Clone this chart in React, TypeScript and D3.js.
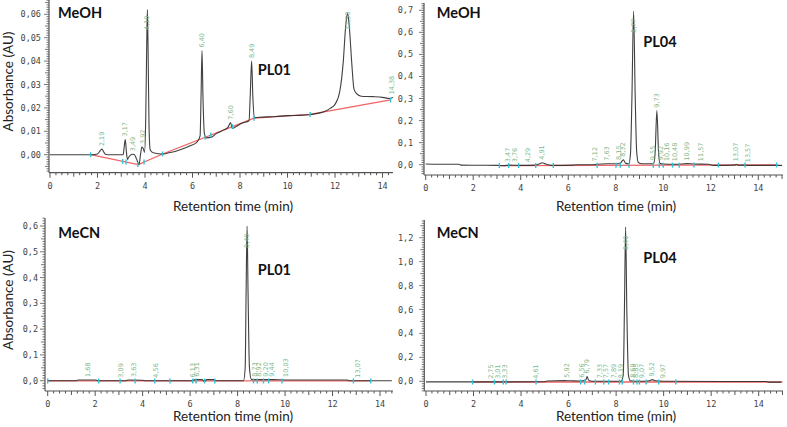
import React from "react";
import * as d3 from "d3";

type Pt = [number, number];

// ---------- shared texts / ticks ----------
const xTickValues = [0, 2, 4, 6, 8, 10, 12, 14];
const solventLabels = ["MeOH", "MeOH", "MeCN", "MeCN"];
const compoundLabels = ["PL01", "PL04", "PL01", "PL04"];
const xAxisTitle = "Retention time (min)";
const yAxisTitle = "Absorbance (AU)";

// ---------- Panel 1 : MeOH / PL01 ----------
const p1YTicks = [0, 0.01, 0.02, 0.03, 0.04, 0.05, 0.06];
const p1Trace: Pt[] = [
  [0, 0], [1.8, 0], [2.0, 0.0003], [2.12, 0.0018], [2.19, 0.0024], [2.26, 0.0012], [2.35, 0.0001], [2.6, 0],
  [3.08, 0], [3.12, 0.003], [3.17, 0.0065], [3.21, 0.002], [3.26, -0.002], [3.32, -0.001], [3.45, 0.0002],
  [3.55, 0.0001], [3.65, -0.002], [3.75, -0.0042], [3.81, 0.0], [3.87, 0.0033], [3.93, 0.0025], [3.98, 0.001],
  [4.03, 0.015], [4.07, 0.045], [4.1, 0.062], [4.13, 0.045], [4.17, 0.012], [4.22, 0.002], [4.35, 0.0008],
  [4.6, 0.0004], [4.8, 0.0003], [5.0, 0.0008], [5.3, 0.0015], [5.6, 0.0025], [5.9, 0.0038], [6.2, 0.0055],
  [6.32, 0.008], [6.36, 0.025], [6.4, 0.0445], [6.44, 0.025], [6.5, 0.009], [6.58, 0.0072], [6.8, 0.0075],
  [7.0, 0.009], [7.3, 0.0105], [7.5, 0.0118], [7.6, 0.0137], [7.68, 0.0112], [7.8, 0.0118], [8.1, 0.0135],
  [8.38, 0.0145], [8.43, 0.025], [8.49, 0.04], [8.54, 0.025], [8.6, 0.0158], [8.8, 0.016], [9.5, 0.0163],
  [10.0, 0.0167], [10.5, 0.0168], [11.0, 0.0172], [11.5, 0.0182], [11.8, 0.0198], [12.0, 0.0215],
  [12.2, 0.027], [12.35, 0.04], [12.45, 0.055], [12.53, 0.0605], [12.6, 0.055], [12.7, 0.04], [12.8, 0.028],
  [12.9, 0.0262], [13.1, 0.025], [13.6, 0.0248], [14.0, 0.0245], [14.3, 0.024], [14.45, 0.0245],
];
const p1Baseline: Pt[] = [
  [1.71, 0], [3.72, -0.0042], [4.74, 0.0003], [8.59, 0.0156], [10.95, 0.0172], [14.34, 0.0234],
];
const p1Markers = [1.71, 3.06, 3.2, 3.7, 3.96, 4.74, 6.53, 6.77, 7.68, 8.59, 10.95, 14.34];
const p1PeakLabels = [2.19, 3.17, 3.49, 3.92, 4.1, 6.4, 7.6, 8.49, 12.53, 14.38];

// ---------- Panel 2 : MeOH / PL04 ----------
const p2YTicks = [0, 0.1, 0.2, 0.3, 0.4, 0.5, 0.6, 0.7];
const p2Trace: Pt[] = [
  [0, 0.003], [0.5, 0.002], [1.4, 0.002], [1.5, -0.002], [3.0, -0.003], [3.3, -0.004], [3.5, -0.002],
  [4.0, -0.003], [4.6, -0.002], [4.8, 0.004], [4.91, 0.009], [5.05, 0.003], [5.3, -0.003], [6.2, -0.002],
  [6.3, 0.0], [7.0, 0.0], [7.2, 0.002], [7.63, 0.004], [8.0, 0.004], [8.2, 0.008], [8.32, 0.022],
  [8.42, 0.006], [8.55, 0.004], [8.62, 0.05], [8.68, 0.3], [8.75, 0.695], [8.82, 0.3], [8.88, 0.06],
  [8.95, 0.01], [9.1, 0.004], [9.5, 0.004], [9.6, 0.007], [9.66, 0.06], [9.73, 0.245], [9.8, 0.06],
  [9.86, 0.006], [10.0, 0.003], [10.5, 0.002], [11.0, 0.005], [11.3, 0.003], [11.9, 0.002], [12.1, -0.003],
  [13.0, -0.002], [13.07, 0.002], [13.15, -0.002], [14.0, -0.003], [15.0, -0.003],
];
const p2Baseline: Pt[] = [[3.1, -0.004], [14.8, -0.001]];
const p2Markers = [3.1, 3.49, 3.91, 4.63, 5.37, 7.22, 8.01, 8.19, 8.56, 9.58, 9.83, 10.0, 10.39, 10.67, 11.29, 12.32, 13.44, 14.77];
const p2PeakLabels = [3.47, 3.76, 4.29, 4.91, 7.12, 7.63, 8.15, 8.32, 8.77, 9.55, 9.73, 9.92, 10.16, 10.48, 10.99, 11.57, 13.07, 13.57];

// ---------- Panel 3 : MeCN / PL01 ----------
const p3YTicks = [0, 0.1, 0.2, 0.3, 0.4, 0.5, 0.6];
const p3Trace: Pt[] = [
  [0, 0], [1.2, 0], [1.3, 0.003], [2.0, 0.003], [2.1, 0.0], [3.3, 0.0], [3.4, 0.003], [4.0, 0.002],
  [4.1, 0.0], [6.1, 0.0], [6.2, 0.004], [6.5, 0.004], [6.6, -0.003], [6.7, 0.004], [7.0, 0.004], [7.1, 0.0],
  [8.25, 0.0], [8.32, 0.05], [8.36, 0.35], [8.4, 0.6], [8.44, 0.35], [8.5, 0.05], [8.58, 0.005],
  [8.7, 0.004], [9.5, 0.004], [10.0, 0.003], [12.6, 0.003], [12.7, 0.0], [14.5, 0.0],
];
const p3Baseline: Pt[] = [[0, -0.001], [13.6, -0.001]];
const p3Markers = [0, 2.15, 3.05, 3.68, 4.51, 5.15, 6.11, 6.25, 6.61, 7.04, 8.67, 8.83, 9.09, 9.31, 9.87, 12.88, 13.61];
const p3PeakLabels = [1.68, 3.09, 3.63, 4.56, 6.13, 6.31, 8.4, 8.73, 8.92, 9.2, 9.44, 10.03, 13.07];

// ---------- Panel 4 : MeCN / PL04 ----------
const p4YTicks = [0, 0.2, 0.4, 0.6, 0.8, 1.0, 1.2];
const p4Trace: Pt[] = [
  [0, -0.005], [2.0, -0.005], [5.0, -0.004], [5.1, 0.003], [5.8, 0.006], [6.1, 0.004], [6.5, 0.002],
  [6.72, 0.01], [6.78, 0.04], [6.84, 0.01], [7.0, 0.0], [8.2, 0.0], [8.3, 0.05], [8.35, 0.6], [8.4, 1.29],
  [8.45, 0.6], [8.52, 0.05], [8.6, 0.005], [9.0, 0.0], [9.4, 0.005], [9.52, 0.014], [9.65, 0.004],
  [10.0, 0.0], [14.3, -0.002], [14.4, -0.007], [14.95, -0.007],
];
const p4Baseline: Pt[] = [[1.96, -0.006], [15.0, -0.006]];
const p4Markers = [1.96, 2.88, 3.25, 3.37, 4.63, 6.51, 6.68, 7.13, 7.48, 7.69, 8.14, 8.26, 8.73, 8.88, 8.98, 9.26, 9.79, 10.51];
const p4PeakLabels = [2.75, 3.01, 3.33, 4.61, 5.92, 6.56, 6.79, 7.33, 7.57, 7.89, 8.19, 8.4, 8.69, 8.85, 9.07, 9.52, 9.97];

// ---------- layout (pixels) ----------
interface Layout {
  x0: number; x14: number; axisX: number; axisXEnd: number;
  yZero: number; yTopTickPx: number; axisTop: number; axisY: number;
  yDecimals: number; tickGap: number;
  solventPos: [number, number]; compoundPos: [number, number];
  xTitlePos: [number, number]; yTitlePos: [number, number] | null;
}

const layouts: Layout[] = [
  { x0: 50, x14: 382.5, axisX: 49, axisXEnd: 393, yZero: 154.7, yTopTickPx: 14.3, axisTop: 0, axisY: 172.7,
    yDecimals: 2, tickGap: 8, solventPos: [58, 18.3], compoundPos: [257.7, 75],
    xTitlePos: [233, 210.5], yTitlePos: [13, 81.5] },
  { x0: 425.7, x14: 758.3, axisX: 424, axisXEnd: 783, yZero: 164.7, yTopTickPx: 10.3, axisTop: 3, axisY: 175,
    yDecimals: 1, tickGap: 11, solventPos: [436.7, 18], compoundPos: [643.3, 47.3],
    xTitlePos: [616, 210.5], yTitlePos: null },
  { x0: 47.7, x14: 380, axisX: 45, axisXEnd: 393, yZero: 380.7, yTopTickPx: 226, axisTop: 218, axisY: 391,
    yDecimals: 1, tickGap: 7, solventPos: [58.3, 238.3], compoundPos: [257.7, 275],
    xTitlePos: [233, 421], yTitlePos: [13, 300] },
  { x0: 426, x14: 758.7, axisX: 424.3, axisXEnd: 783, yZero: 381.3, yTopTickPx: 237.7, axisTop: 220, axisY: 391,
    yDecimals: 1, tickGap: 11, solventPos: [436.7, 238.3], compoundPos: [643.3, 263.3],
    xTitlePos: [616, 421], yTitlePos: null },
];

const panelData = [
  { trace: p1Trace, baseline: p1Baseline, markers: p1Markers, labels: p1PeakLabels, yTicks: p1YTicks },
  { trace: p2Trace, baseline: p2Baseline, markers: p2Markers, labels: p2PeakLabels, yTicks: p2YTicks },
  { trace: p3Trace, baseline: p3Baseline, markers: p3Markers, labels: p3PeakLabels, yTicks: p3YTicks },
  { trace: p4Trace, baseline: p4Baseline, markers: p4Markers, labels: p4PeakLabels, yTicks: p4YTicks },
];

function interp(pts: Pt[], t: number): number {
  if (t <= pts[0][0]) return pts[0][1];
  if (t >= pts[pts.length - 1][0]) return pts[pts.length - 1][1];
  for (let i = 1; i < pts.length; i++) {
    if (t <= pts[i][0]) {
      const [a, av] = pts[i - 1];
      const [b, bv] = pts[i];
      return av + ((t - a) / (b - a)) * (bv - av);
    }
  }
  return 0;
}

function apexNear(pts: Pt[], t: number): number {
  let m = interp(pts, t);
  for (const p of pts) if (Math.abs(p[0] - t) <= 0.07 && p[1] > m) m = p[1];
  return m;
}

const comma = (s: string) => s.replace(".", ",");

const AXIS_COLOR = "#555";
const TICK_FONT = "'DejaVu Sans Mono', monospace";
const TITLE_FONT = "Lato, 'Open Sans', sans-serif";

function Panel({ idx }: { idx: number }) {
  const L = layouts[idx];
  const D = panelData[idx];
  const x = d3.scaleLinear().domain([0, 14]).range([L.x0, L.x14]);
  const yMax = D.yTicks[D.yTicks.length - 1];
  const y = d3.scaleLinear().domain([0, yMax]).range([L.yZero, L.yTopTickPx]);

  const traceLine = d3.line<Pt>().x((d) => x(d[0])).y((d) => y(d[1])).curve(d3.curveMonotoneX);
  const baseLine = d3.line<Pt>().x((d) => x(d[0])).y((d) => y(d[1]));

  // minor x ticks every 0.25 min
  const tMin = x.invert(L.axisX);
  const tMax = x.invert(L.axisXEnd);
  const xMinor = d3.range(Math.ceil(tMin * 4) / 4, tMax + 1e-9, 0.25);

  // y minor ticks: tenth of major step
  const majorStep = D.yTicks[1] - D.yTicks[0];
  const minorStep = majorStep / 10;
  const vBottom = y.invert(L.axisY);
  const vTop = y.invert(L.axisTop);
  const yMinor = d3.range(Math.ceil(vBottom / minorStep), Math.floor(vTop / minorStep) + 1).map((k) => k * minorStep);

  const fmtY = d3.format(`.${L.yDecimals}f`);
  const labelFmt = d3.format(".2f");

  return (
    <g>
      {/* axes */}
      <line x1={L.axisX} x2={L.axisX} y1={L.axisTop} y2={L.axisY} stroke={AXIS_COLOR} strokeWidth={1.2} />
      <line x1={L.axisX} x2={L.axisXEnd} y1={L.axisY} y2={L.axisY} stroke={AXIS_COLOR} strokeWidth={1.2} />
      {xMinor.map((t, i) => {
        const isMajor = Math.abs(t - Math.round(t / 2) * 2) < 1e-6;
        const isMid = !isMajor && Math.abs(t - Math.round(t)) < 1e-6;
        const len = isMajor ? 5 : isMid ? 4 : 2.5;
        return <line key={"xm" + i} x1={x(t)} x2={x(t)} y1={L.axisY} y2={L.axisY + len} stroke={AXIS_COLOR} strokeWidth={1} />;
      })}
      {xTickValues.map((t) => (
        <text key={"xt" + t} x={x(t)} y={L.axisY + 13} textAnchor="middle" dominantBaseline="central"
          fontFamily={TICK_FONT} fontSize={8.5} fill="#444">{t}</text>
      ))}
      {yMinor.map((v, i) => {
        const r = v / majorStep;
        const isMajor = Math.abs(r - Math.round(r)) < 1e-6;
        const isMid = !isMajor && Math.abs(r * 2 - Math.round(r * 2)) < 1e-6;
        const len = isMajor ? 5 : isMid ? 4 : 2.5;
        return <line key={"ym" + i} x1={L.axisX - len} x2={L.axisX} y1={y(v)} y2={y(v)} stroke={AXIS_COLOR} strokeWidth={0.8} />;
      })}
      {D.yTicks.map((v) => (
        <text key={"yt" + v} x={L.axisX - L.tickGap} y={y(v)} textAnchor="end" dominantBaseline="central"
          fontFamily={TICK_FONT} fontSize={8.5} fill="#444">{comma(fmtY(v))}</text>
      ))}

      {/* baseline (integration) */}
      <path d={baseLine(D.baseline) || ""} fill="none" stroke="#f04848" strokeOpacity={0.85} strokeWidth={1.3} />
      {/* chromatogram */}
      <path d={traceLine(D.trace) || ""} fill="none" stroke="#2b2b2b" strokeOpacity={0.9} strokeWidth={1.1} />
      {/* integration markers */}
      {D.markers.map((t, i) => {
        const yy = y(interp(D.baseline, t));
        return <line key={"mk" + i} x1={x(t)} x2={x(t)} y1={yy - 2.5} y2={yy + 2.5} stroke="#2ec4d6" strokeWidth={1.4} />;
      })}
      {/* peak labels */}
      {D.labels.map((t, i) => {
        const bottom = Math.max(y(apexNear(D.trace, t)) - 3, L.axisTop + 30);
        return (
          <text key={"pl" + i} transform={`translate(${x(t)},${bottom}) rotate(-90)`} textAnchor="start"
            dominantBaseline="central" fontFamily="'DejaVu Sans', sans-serif" fontSize={6.5} fill="#7db88a">
            {comma(labelFmt(t))}
          </text>
        );
      })}

      {/* titles */}
      <text x={L.solventPos[0]} y={L.solventPos[1]} fontFamily={TITLE_FONT} fontWeight="bold" fontSize={14.5} fill="#111">
        {solventLabels[idx]}
      </text>
      <text x={L.compoundPos[0]} y={L.compoundPos[1]} fontFamily={TITLE_FONT} fontWeight="bold" fontSize={14.5} fill="#111">
        {compoundLabels[idx]}
      </text>
      <text x={L.xTitlePos[0]} y={L.xTitlePos[1]} textAnchor="middle" fontFamily={TITLE_FONT} fontSize={13.5} fill="#222">
        {xAxisTitle}
      </text>
      {L.yTitlePos && (
        <text transform={`translate(${L.yTitlePos[0]},${L.yTitlePos[1]}) rotate(-90)`} textAnchor="middle"
          fontFamily={TITLE_FONT} fontSize={13.5} fill="#222">
          {yAxisTitle}
        </text>
      )}
    </g>
  );
}

export default function App() {
  return (
    <div style={{ position: "absolute", left: 0, top: 0 }}>
      <svg width={787} height={427} viewBox="0 0 787 427" style={{ display: "block", background: "#fff" }}>
        {layouts.map((_, i) => (
          <Panel key={i} idx={i} />
        ))}
      </svg>
    </div>
  );
}
